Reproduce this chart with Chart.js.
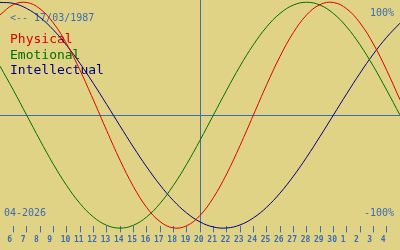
<!DOCTYPE html>
<html>
<head>
<meta charset="utf-8">
<script src="https://cdn.jsdelivr.net/npm/chart.js@4"></script>
<style>
  html, body { margin: 0; padding: 0; background: #e0d385; }
  #wrap { width: 400px; height: 250px; position: relative; }
</style>
</head>
<body>
<div id="wrap"><canvas id="bio"></canvas></div>
<script>
// days shown, from 5 April to 5 May (first and last are the edges of the plot)
const days = ['5', '6', '7', '8', '9', '10', '11', '12', '13', '14', '15', '16', '17', '18', '19', '20',
    '21', '22', '23', '24', '25', '26', '27', '28', '29', '30', '1', '2', '3', '4', '5'];

const physical = [0.888, 0.979, 0.998, 0.942, 0.817, 0.631, 0.398, 0.136, -0.136, -0.398, -0.631,
    -0.817, -0.942, -0.998, -0.979, -0.888, -0.731, -0.520, -0.270, 0, 0.270, 0.520, 0.731, 0.888,
    0.979, 0.998, 0.942, 0.817, 0.631, 0.398, 0.136];
const emotional = [0.434, 0.222, 0, -0.222, -0.434, -0.623, -0.782, -0.901, -0.975, -1, -0.975,
    -0.901, -0.782, -0.623, -0.434, -0.222, 0, 0.222, 0.434, 0.623, 0.782, 0.901, 0.975, 1, 0.975,
    0.901, 0.782, 0.623, 0.434, 0.222, 0];
const intellectual = [0.999, 0.990, 0.945, 0.866, 0.756, 0.618, 0.458, 0.282, 0.095, -0.095, -0.282,
    -0.458, -0.618, -0.756, -0.866, -0.945, -0.990, -0.999, -0.972, -0.910, -0.815, -0.690, -0.541,
    -0.372, -0.189, 0, 0.189, 0.372, 0.541, 0.690, 0.815];

const seriesNames = ['Physical', 'Emotional', 'Intellectual'];
const birthText = '<-- 17/03/1987';
const monthText = '04-2026';
const topText = '100%';
const bottomText = '-100%';
const todayIndex = 15;

const blue = '#3b6db4';
const red = '#dc0000';
const green = '#007000';
const navy = '#000080';
const mono = '"DejaVu Sans Mono", monospace';

// texts drawn on the plot: date, month, percent marks and the coloured legend
const textPlugin = {
    id: 'bioTexts',
    beforeDatasetsDraw(chart) {
        const ctx = chart.ctx;
        ctx.save();
        ctx.textBaseline = 'alphabetic';
        ctx.font = '10px ' + mono;
        ctx.fillStyle = blue;
        ctx.textAlign = 'left';
        ctx.fillText(birthText, 10, 21);
        ctx.fillText(monthText, 4, 216);
        ctx.textAlign = 'right';
        ctx.fillText(topText, 394, 16);
        ctx.fillText(bottomText, 394, 216);

        ctx.textAlign = 'left';
        ctx.font = '13px ' + mono;
        const ys = [43, 58.5, 74];
        chart.data.datasets.forEach(function (ds, i) {
            ctx.fillStyle = ds.borderColor;
            ctx.fillText(ds.label, 10, ys[i]);
        });
        ctx.restore();
    }
};

new Chart(document.getElementById('bio'), {
    type: 'line',
    data: {
        labels: days,
        datasets: [
            { label: seriesNames[0], data: physical, borderColor: red },
            { label: seriesNames[1], data: emotional, borderColor: green },
            { label: seriesNames[2], data: intellectual, borderColor: navy }
        ]
    },
    options: {
        responsive: true,
        maintainAspectRatio: false,
        animation: false,
        layout: { padding: { left: 0, right: 0, top: 0, bottom: 2 } },
        elements: {
            line: { borderWidth: 1, tension: 0.4, fill: false },
            point: { radius: 0 }
        },
        datasets: { line: { clip: false } },
        plugins: {
            legend: { display: false },
            tooltip: { enabled: false }
        },
        scales: {
            x: {
                type: 'category',
                offset: false,
                border: { display: false },
                afterFit: s => { s.paddingLeft = 0; s.paddingRight = 0; },
                grid: {
                    drawOnChartArea: true,
                    lineWidth: 1,
                    tickLength: 6,
                    color: c => c.index === todayIndex ? blue : 'rgba(0,0,0,0)',
                    tickColor: c => (c.index === 0 || c.index === days.length - 1) ? 'rgba(0,0,0,0)' : blue
                },
                ticks: {
                    color: blue,
                    font: { family: mono, size: 8, weight: 'bold' },
                    padding: 3,
                    maxRotation: 0,
                    autoSkip: false,
                    align: 'start',
                    labelOffset: -6,
                    callback: (v, i) => (i === 0 || i === days.length - 1) ? '' : days[i]
                }
            },
            y: {
                min: -0.985,
                max: 1.02,
                border: { display: false },
                afterFit: s => { s.width = 0; },
                afterBuildTicks: s => { s.ticks = [{ value: 0 }]; },
                ticks: { display: false },
                grid: {
                    drawTicks: false,
                    lineWidth: 1,
                    color: c => c.tick && c.tick.value === 0 ? blue : 'rgba(0,0,0,0)'
                }
            }
        }
    },
    plugins: [textPlugin]
});
</script>
</body>
</html>
